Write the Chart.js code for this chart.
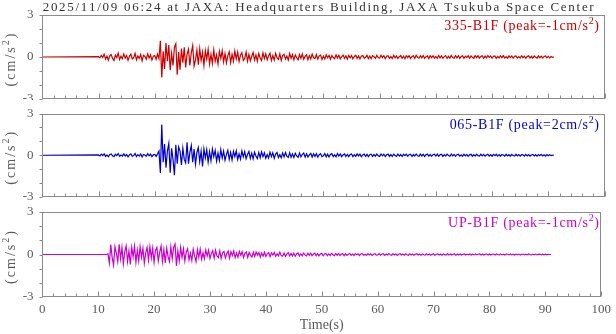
<!DOCTYPE html>
<html>
<head>
<meta charset="utf-8">
<script src="https://cdn.jsdelivr.net/npm/chart.js@4.4.1/dist/chart.umd.min.js"></script>
<style>
html, body { margin: 0; padding: 0; background: #fff; }
#wrap { position: relative; width: 616px; height: 334px; }
canvas { position: absolute; left: 0; }
</style>
</head>
<body>
<div id="wrap">
  <canvas id="p1" width="616" height="100" style="top:0px;width:616px;height:100px"></canvas>
  <canvas id="p2" width="616" height="100" style="top:100px;width:616px;height:100px"></canvas>
  <canvas id="p3" width="616" height="134" style="top:200px;width:616px;height:134px"></canvas>
</div>
<script>
// record info
var titleText = "2025/11/09 06:24 at JAXA: Headquarters Building, JAXA Tsukuba Space Center";
var channels = ["335-B1F", "065-B1F", "UP-B1F"];
var peaks = [-1, 2, -1];
var colors = ["#cc0000", "#0000cc", "#cc00cc"];
var xTickLabels = [0, 10, 20, 30, 40, 50, 60, 70, 80, 90, 100];
var yTickLabels = [-3, 0, 3];

// samples start at 10 s, every 0.25 s, up to 91 s (trace is 0 before that)
var timeStart = 10;
var timeStep = 0.25;

var acc335 = [
  0.03,-0.06,0.12,-0.04,0.2,-0.15,0.05,-0.22,0.08,0.18,-0.1,-0.25,0.14,-0.05,0.28,-0.18,0.06,-0.12,0.22,-0.08,
  0.1,-0.24,0.05,0.2,-0.14,-0.06,0.26,-0.2,0.08,-0.1,0.18,-0.28,0.12,0.04,-0.16,0.22,-0.08,0.15,-0.22,0.06,
  0.1,-0.16,0.2,-0.12,1.16,-1.46,0.4,-0.85,1.0,-0.3,0.85,-0.95,0.25,-0.6,0.7,0.95,-1.26,0.35,-0.9,0.6,
  -0.4,0.7,-0.75,0.2,0.55,-0.6,0.3,0.82,-0.65,-0.2,0.5,-0.55,0.6,-0.25,0.35,-0.6,0.45,-0.15,0.55,-0.5,
  0.2,-0.45,0.5,-0.3,0.15,-0.5,0.4,-0.1,0.45,-0.35,0.25,-0.42,0.1,0.38,-0.4,0.2,-0.3,0.42,-0.15,0.35,
  -0.32,0.12,0.3,-0.25,-0.1,0.36,-0.3,0.18,-0.28,0.05,0.32,-0.22,0.15,-0.3,0.25,-0.08,-0.25,0.3,-0.12,0.22,
  -0.2,0.08,0.28,-0.25,0.1,-0.22,0.26,-0.05,-0.18,0.22,-0.25,0.12,0.2,-0.15,0.06,-0.22,0.25,-0.1,0.18,-0.2,
  0.15,-0.05,-0.2,0.18,-0.1,0.22,-0.16,0.04,0.16,-0.2,0.1,-0.14,0.2,-0.06,-0.12,0.18,-0.15,0.08,0.14,-0.18,
  0.06,-0.14,0.16,-0.05,0.12,-0.16,0.1,-0.04,-0.12,0.15,-0.08,0.12,-0.14,0.03,0.14,-0.1,0.08,-0.15,0.12,-0.06,
  0.1,-0.13,0.04,0.12,-0.1,0.08,-0.14,0.06,0.11,-0.08,-0.03,0.12,-0.11,0.07,-0.12,0.1,0.02,-0.1,0.12,-0.06,
  -0.08,0.12,-0.04,0.1,-0.12,0.05,0.09,-0.1,0.03,-0.11,0.12,-0.06,0.08,-0.1,0.02,0.11,-0.09,0.06,-0.12,0.09,
  -0.05,0.1,-0.11,0.04,0.09,-0.1,0.12,-0.03,-0.09,0.1,-0.06,0.11,-0.1,0.02,0.08,-0.11,0.1,-0.05,0.09,-0.08,
  0.04,-0.1,0.11,-0.06,0.08,-0.09,0.03,0.1,-0.1,0.05,-0.08,0.11,-0.04,-0.09,0.1,-0.06,0.09,-0.1,0.03,0.08,
  -0.1,0.06,-0.04,0.1,-0.09,0.08,-0.02,-0.1,0.09,-0.05,0.1,-0.08,0.04,0.09,-0.1,0.06,-0.07,0.1,-0.03,0.08,
  -0.09,0.05,0.08,-0.1,0.04,-0.07,0.09,-0.05,0.1,-0.08,0.02,-0.09,0.08,-0.04,0.07,-0.09,0.05,0.08,-0.08,0.03,
  -0.07,0.09,-0.05,0.06,-0.09,0.03,0.08,-0.07,0.05,-0.08,0.07,-0.02,-0.08,0.08,-0.05,0.06,-0.08,0.04,0.07,-0.06,
  0.04,-0.06,0.03,-0.02,0
];

var acc065 = [
  0.02,-0.05,0.08,-0.02,0.1,-0.08,0.03,-0.11,0.06,0.09,-0.04,-0.1,0.07,-0.03,0.12,-0.08,0.02,-0.06,0.1,-0.05,
  0.05,-0.12,0.03,0.1,-0.07,-0.02,0.13,-0.1,0.04,-0.06,0.09,-0.12,0.06,0.02,-0.08,0.11,-0.04,0.08,-0.1,0.03,
  0.06,-0.08,0.1,0.3,-1.27,2.2,-0.5,0.8,-0.9,0.3,0.85,-1.25,0.5,-0.3,-1.44,0.75,-0.6,0.6,0.3,-0.7,
  0.5,-0.3,-0.55,0.94,-0.6,0.2,0.7,-0.5,0.45,-0.65,0.2,0.55,-0.45,0.3,-0.8,0.45,-0.2,0.4,-0.5,0.25,
  -0.4,0.45,-0.1,0.35,-0.42,0.15,-0.38,0.4,-0.2,0.3,-0.35,0.05,0.36,-0.3,0.2,-0.34,0.28,-0.1,0.32,-0.3,
  0.1,-0.28,0.3,-0.12,0.26,-0.25,0.05,0.28,-0.22,0.15,-0.26,0.22,-0.05,-0.24,0.2,-0.18,0.25,-0.1,0.18,-0.22,
  0.05,-0.2,0.22,-0.1,0.18,-0.22,0.08,0.2,-0.16,0.04,-0.18,0.17,-0.12,0.2,-0.06,-0.15,0.18,-0.14,0.1,-0.16,
  0.14,-0.05,-0.15,0.16,-0.12,0.06,0.15,-0.14,0.1,-0.12,0.03,0.14,-0.13,0.1,-0.08,0.12,-0.13,0.04,0.12,-0.1,
  -0.04,0.12,-0.11,0.08,-0.12,0.05,0.11,-0.1,0.03,-0.11,0.12,-0.06,0.09,-0.1,0.02,0.1,-0.09,0.07,-0.1,0.05,
  0.09,-0.1,0.04,-0.08,0.1,-0.05,0.08,-0.1,0.02,0.09,-0.08,0.06,-0.1,0.04,0.08,-0.09,0.05,-0.07,0.09,-0.03,
  -0.08,0.09,-0.04,0.07,-0.09,0.03,0.08,-0.08,0.05,-0.09,0.07,-0.02,-0.08,0.09,-0.06,0.05,-0.09,0.07,-0.03,0.08,
  -0.07,0.04,0.08,-0.09,0.05,-0.06,0.09,-0.04,-0.07,0.08,-0.05,0.07,-0.09,0.03,0.08,-0.07,0.06,-0.08,0.04,0.07,
  -0.06,0.08,-0.07,0.03,0.07,-0.08,0.05,-0.06,0.08,-0.02,-0.07,0.08,-0.05,0.06,-0.08,0.04,0.07,-0.06,0.03,-0.08,
  0.07,-0.05,0.06,-0.08,0.03,0.07,-0.07,0.05,-0.06,0.08,-0.03,-0.06,0.07,-0.05,0.06,-0.07,0.02,0.07,-0.06,0.05,
  -0.07,0.06,-0.03,0.07,-0.06,0.04,-0.07,0.06,0.02,-0.06,0.07,-0.05,0.04,-0.07,0.06,-0.02,-0.06,0.07,-0.04,0.05,
  -0.06,0.05,0.03,-0.06,0.06,-0.04,0.05,-0.06,0.02,0.06,-0.05,0.04,-0.06,0.05,-0.03,0.06,-0.05,0.03,-0.06,0.05,
  -0.04,0.04,-0.03,0.01,0
];

var accUP = [
  0,0,0,0,0,0,0,0.05,-0.6,0.7,-0.2,-0.75,0.55,0.1,-0.5,0.72,-0.3,0.5,-0.65,0.2,
  0.6,-0.5,0.25,-0.7,0.5,-0.15,0.6,-0.55,0.3,-0.45,0.55,-0.2,0.45,-0.6,0.1,0.5,-0.4,0.55,-0.25,0.45,
  -0.55,0.3,0.5,-0.45,0.15,0.6,-0.5,0.35,-0.6,0.45,-0.15,-0.5,0.55,-0.3,0.5,0.74,-0.8,0.25,-0.45,0.5,
  -0.2,0.4,-0.45,0.15,0.4,-0.38,0.1,-0.42,0.38,-0.1,-0.5,0.35,-0.2,0.38,-0.32,0.12,-0.3,0.32,-0.1,0.3,
  -0.28,0.08,0.28,-0.25,0.3,-0.1,-0.22,0.26,-0.28,0.12,0.22,-0.25,0.05,0.24,-0.26,0.2,-0.08,0.25,-0.22,0.1,
  -0.2,0.22,-0.05,0.2,-0.22,0.08,0.18,-0.2,0.15,-0.06,-0.18,0.16,-0.14,0.18,-0.04,0.14,-0.18,0.1,-0.12,0.16,
  -0.14,0.05,0.14,-0.15,0.12,-0.04,0.14,-0.12,0.06,-0.1,0.16,-0.08,-0.12,0.1,-0.13,0.03,0.14,-0.1,0.08,-0.11,
  0.1,-0.12,0.04,0.11,-0.1,0.05,-0.09,0.1,-0.03,-0.1,0.09,-0.06,0.1,-0.08,0.02,0.09,-0.08,0.06,-0.1,0.04,
  0.08,-0.09,0.03,0.07,-0.08,0.04,-0.07,0.08,-0.02,-0.08,0.07,-0.05,0.07,-0.07,0.03,0.06,-0.08,0.05,-0.06,0.02,
  0.07,-0.06,0.03,-0.07,0.06,-0.02,0.05,-0.07,0.04,0.06,-0.05,0.02,-0.06,0.06,-0.03,0.05,-0.06,0.02,0.05,-0.05,
  -0.03,0.06,-0.05,0.02,0.05,-0.06,0.03,-0.04,0.06,-0.02,-0.05,0.05,-0.03,0.05,-0.06,0.02,0.05,-0.04,0.03,-0.05,
  0.05,-0.02,-0.05,0.05,-0.03,0.04,-0.05,0.02,0.05,-0.04,0.03,-0.05,0.04,-0.02,-0.04,0.05,-0.03,0.04,-0.05,0.02,
  0.04,-0.05,0.02,0.04,-0.04,0.03,-0.05,0.04,-0.01,-0.04,0.05,-0.03,0.04,-0.04,0.02,0.04,-0.05,0.03,-0.03,0.04,
  -0.04,0.02,0.04,-0.04,0.03,-0.02,0.04,-0.04,0.02,-0.03,0.04,-0.03,0.02,0.04,-0.04,0.03,-0.04,0.02,0.03,-0.04,
  0.03,-0.04,0.02,0.03,-0.03,0.04,-0.02,-0.03,0.04,-0.03,0.02,-0.04,0.03,0.02,-0.03,0.04,-0.03,0.02,-0.04,0.03,
  -0.02,0.03,-0.04,0.02,0.03,-0.03,0.02,-0.03,0.04,-0.02,-0.03,0.03,-0.02,0.03,-0.03,0.01,0.03,-0.03,0.02,-0.02,
  0.02,-0.02,0.01,0,0
];

var serif = '"Liberation Serif", "Times New Roman", serif';
var axisColor = "#8a8a8a";
var labelColor = "#5a5a5a";

function toPoints(values) {
  var pts = [{x: 0, y: 0}];
  for (var i = 0; i < values.length; i++) {
    pts.push({x: timeStart + i * timeStep, y: values[i]});
  }
  return pts;
}

// draw a list of text parts (for superscripts) with extra letter spacing
function partsWidth(ctx, parts, sp) {
  var w = 0;
  parts.forEach(function(p) {
    ctx.font = p.font;
    for (const ch of p.t) w += ctx.measureText(ch).width + sp;
  });
  return w - sp;
}
function drawParts(ctx, parts, x, y, sp) {
  parts.forEach(function(p) {
    ctx.font = p.font;
    for (const ch of p.t) {
      ctx.fillText(ch, x, y + (p.dy || 0));
      x += ctx.measureText(ch).width + sp;
    }
  });
}

var decor = {
  id: "decor",
  afterDraw: function(chart, args, o) {
    var ctx = chart.ctx, a = chart.chartArea;
    var x = chart.scales.x, y = chart.scales.y;
    var L = Math.round(a.left) + 0.5, R = Math.round(a.right) - 0.5;
    var T = Math.round(a.top) + 0.5, B = Math.round(a.bottom) - 0.5;
    ctx.save();
    ctx.strokeStyle = axisColor;
    ctx.lineWidth = 1;
    ctx.strokeRect(L, T, R - L, B - T);
    ctx.beginPath();
    for (var v = 0; v <= 100; v += 2) {
      var px = Math.round(x.getPixelForValue(v)) + 0.5;
      ctx.moveTo(px, B);
      ctx.lineTo(px, B - (v % 10 === 0 ? 5 : 3));
    }
    for (var w = -3; w <= 3; w++) {
      var py = Math.round(y.getPixelForValue(w)) + 0.5;
      ctx.moveTo(L, py);
      ctx.lineTo(L - 3, py);
    }
    ctx.stroke();

    // y tick labels
    ctx.fillStyle = labelColor;
    ctx.font = "13px " + serif;
    ctx.textAlign = "right";
    ctx.textBaseline = "middle";
    yTickLabels.forEach(function(v) {
      ctx.fillText(String(v), 33.5, y.getPixelForValue(v));
    });
    ctx.textAlign = "left";

    // channel label, right aligned in the panel
    ctx.fillStyle = o.color;
    ctx.textBaseline = "alphabetic";
    var big = "14px " + serif, small = "10px " + serif;
    var parts = [
      {t: o.channel + " (peak=" + o.peak + "cm/s", font: big},
      {t: "2", font: small, dy: -6},
      {t: ")", font: big}
    ];
    var lw = partsWidth(ctx, parts, 0.7);
    drawParts(ctx, parts, 599 - lw, a.top + 15, 0.7);

    // y axis title
    ctx.fillStyle = labelColor;
    var yp = [
      {t: "(cm/s", font: big},
      {t: "2", font: small, dy: -6},
      {t: ")", font: big}
    ];
    var yw = partsWidth(ctx, yp, 2);
    ctx.translate(15, (a.top + a.bottom) / 2 + 3);
    ctx.rotate(-Math.PI / 2);
    drawParts(ctx, yp, -yw / 2, 0, 2);
    ctx.restore();

    if (o.title) {
      ctx.save();
      ctx.fillStyle = "#333";
      var tp = [{t: titleText, font: "13px " + serif}];
      var n = titleText.length;
      var sp = (551 - partsWidth(ctx, tp, 0)) / (n - 1);
      drawParts(ctx, tp, 42.7, 11, sp);
      ctx.restore();
    }
  }
};

function makePanel(id, values, idx, pad, showX) {
  return new Chart(document.getElementById(id), {
    type: "line",
    data: {
      datasets: [{
        data: toPoints(values),
        borderColor: colors[idx],
        borderWidth: 1.2,
        pointRadius: 0,
        tension: 0,
        fill: false
      }]
    },
    options: {
      responsive: false,
      animation: false,
      events: [],
      layout: {padding: {left: 0, right: 11.5, top: pad.top, bottom: pad.bottom}},
      plugins: {
        legend: {display: false},
        tooltip: {enabled: false},
        decor: {
          color: colors[idx],
          channel: channels[idx],
          peak: peaks[idx],
          title: idx === 0
        }
      },
      scales: {
        x: {
          type: "linear",
          min: 0,
          max: 100,
          display: showX,
          grid: {display: false, drawTicks: false},
          border: {display: false},
          afterFit: function(s) { s.height = showX ? 37 : 0; },
          afterBuildTicks: function(s) {
            s.ticks = xTickLabels.map(function(v) { return {value: v}; });
          },
          ticks: {
            color: labelColor,
            font: {family: serif, size: 13},
            padding: 5,
            maxRotation: 0,
            autoSkip: false
          },
          title: {
            display: true,
            text: "Time(s)",
            color: labelColor,
            font: {family: serif, size: 14},
            padding: {top: 0, bottom: 0}
          }
        },
        y: {
          min: -3,
          max: 3,
          grid: {display: false, drawTicks: false},
          border: {display: false},
          ticks: {display: false},
          afterFit: function(s) { s.width = 42.3; }
        }
      }
    },
    plugins: [decor]
  });
}

makePanel("p1", acc335, 0, {top: 15, bottom: 1}, false);
makePanel("p2", acc065, 1, {top: 13.5, bottom: 3}, false);
makePanel("p3", accUP, 2, {top: 12, bottom: 0}, true);
</script>
</body>
</html>
